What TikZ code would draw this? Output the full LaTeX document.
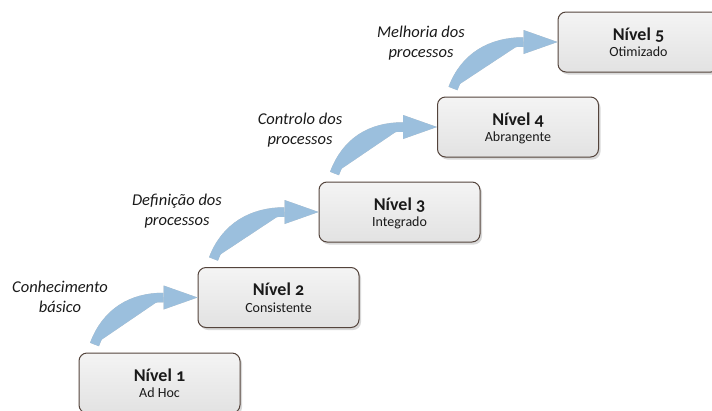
\documentclass[tikz,border=0pt]{standalone}
\usepackage{fontspec}
\setmainfont{Carlito}[Numbers=OldStyle]
\usetikzlibrary{arrows.meta,calc,shadows}

\definecolor{boxedge}{HTML}{54443C}
\definecolor{boxtop}{HTML}{F4F4F4}
\definecolor{boxbot}{HTML}{E2E2E2}
\definecolor{stepblue}{HTML}{9BBFDD}
\definecolor{stepshade}{HTML}{CAC6C2}
\definecolor{ink}{HTML}{1A1A1A}

\begin{document}
\begin{tikzpicture}[x=1pt,y=-1pt,
  level/.style={draw=boxedge, line width=1pt, rounded corners=8pt,
    minimum width=161pt, minimum height=60pt, inner sep=0pt,
    top color=boxtop, bottom color=boxbot,
    drop shadow={shadow xshift=2pt, shadow yshift=-2.5pt, opacity=0.25, fill=black!60}},
  leveltitle/.style={anchor=base, inner sep=0pt, text=ink,
    font=\bfseries\fontsize{18}{20}\selectfont},
  levelsub/.style={anchor=base, inner sep=0pt, text=ink,
    font=\fontsize{14}{16}\selectfont},
  steplabel/.style={anchor=base, inner sep=0pt, text=ink,
    font=\itshape\fontsize{16.5}{19}\selectfont},
  stepflow/.style={line width=9.5pt,
    -{Triangle[length=34pt 0 0, width=24pt 0, line width=0pt 0 0]}},
]
\useasboundingbox (0,0) rectangle (712,410);
\clip (0,0) rectangle (712,410);

% maturity levels
\node[level] (n1) at (159.5,383) {};
\node[level] (n2) at (278.5,297.5) {};
\node[level] (n3) at (399.5,212) {};
\node[level] (n4) at (518,127) {};
\node[level] (n5) at (638.5,42) {};

\foreach \i/\s in {1/Ad Hoc,2/Consistente,3/Integrado,4/Abrangente,5/Otimizado}{
  \node[leveltitle] (t\i) at ($(n\i.center)+(0,-2)$) {Nível \i};
  \node[levelsub] (s\i) at ($(n\i.center)+(0,14.5)$) {\s};
}

% curved step arrows between consecutive levels
\foreach \i/\j in {1/2,2/3,3/4,4/5}{
  \draw[stepflow, draw=stepshade, fill=stepshade, shift={(2,3)}]
    ($(n\i.north west)+(16,-8)$) .. controls +(12,-32) and +(-32,0) ..
    ($(n\j.west)+(-34,0)$) -- (n\j.west);
  \draw[stepflow, draw=stepblue, fill=stepblue]
    ($(n\i.north west)+(16,-8)$) .. controls +(12,-32) and +(-32,0) ..
    ($(n\j.west)+(-34,0)$) -- (n\j.west);
}

% step captions
\node[steplabel] (a1) at (60,292) {Conhecimento};
\node[steplabel] (b1) at (60,312) {básico};
\node[steplabel] (a2) at (177,205) {Definição dos};
\node[steplabel] (b2) at (177,225) {processos};
\node[steplabel] (a3) at (300,124) {Controlo dos};
\node[steplabel] (b3) at (300,144) {processos};
\node[steplabel] (a4) at (421,37) {Melhoria dos};
\node[steplabel] (b4) at (421,57) {processos};
\end{tikzpicture}
\end{document}
